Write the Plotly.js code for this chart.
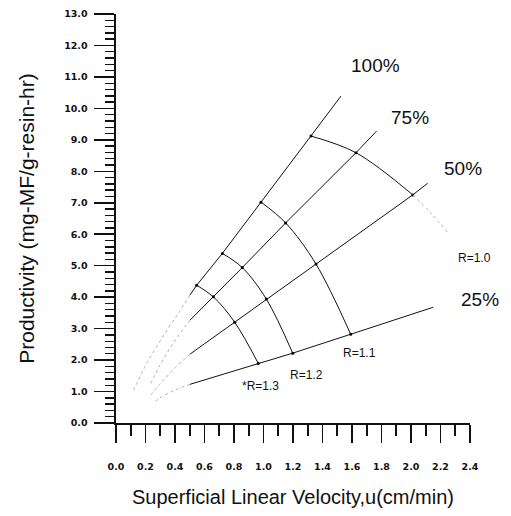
<!DOCTYPE html>
<html><head><meta charset="utf-8">
<script src="https://cdn.plot.ly/plotly-3.0.1.min.js"></script>
<style>html,body{margin:0;padding:0;background:#fff}</style>
</head><body><div id="chart" style="width:511px;height:516px"></div>
<script>
// ---- tick labels ----
const xTickVals = [0.0,0.2,0.4,0.6,0.8,1.0,1.2,1.4,1.6,1.8,2.0,2.2,2.4];
const xTickText = ['0.0','0.2','0.4','0.6','0.8','1.0','1.2','1.4','1.6','1.8','2.0','2.2','2.4'];
const yTickVals = [0,1,2,3,4,5,6,7,8,9,10,11,12,13];
const yTickText = ['0.0','1.0','2.0','3.0','4.0','5.0','6.0','7.0','8.0','9.0','10.0','11.0','12.0','13.0'];

// ---- constant-percentage lines (solid part) ----
const line100X = [0.502, 0.547, 0.721, 0.983, 1.322, 1.525];
const line100Y = [4.07, 4.38, 5.39, 7.02, 9.12, 10.39];
const line75X  = [0.502, 0.660, 0.856, 1.150, 1.627, 1.767];
const line75Y  = [3.27, 4.01, 4.94, 6.36, 8.59, 9.28];
const line50X  = [0.502, 0.805, 1.019, 1.356, 2.012, 2.113];
const line50Y  = [2.19, 3.20, 3.94, 5.05, 7.25, 7.62];
const line25X  = [0.502, 0.965, 1.198, 1.591, 2.151];
const line25Y  = [1.23, 1.89, 2.22, 2.82, 3.68];

// ---- dotted extensions toward origin ----
const dot100X = [0.502, 0.423, 0.310, 0.197, 0.113];
const dot100Y = [4.07, 3.49, 2.69, 1.79, 0.98];
const dot75X  = [0.502, 0.468, 0.380, 0.298, 0.231];
const dot75Y  = [3.27, 3.06, 2.48, 1.84, 1.21];
const dot50X  = [0.502, 0.400, 0.300, 0.220];
const dot50Y  = [2.19, 1.75, 1.25, 0.80];
const dot25X  = [0.502, 0.400, 0.300, 0.250];
const dot25Y  = [1.23, 1.05, 0.80, 0.62];

// ---- constant-R curves ----
const r10X = [1.322, 1.627, 2.012];
const r10Y = [9.12, 8.59, 7.25];
const r10DotX = [2.012, 2.130, 2.253];
const r10DotY = [7.25, 6.70, 6.03];
const r11X = [0.983, 1.150, 1.356, 1.591];
const r11Y = [7.02, 6.36, 5.05, 2.82];
const r12X = [0.721, 0.856, 1.019, 1.198];
const r12Y = [5.39, 4.94, 3.94, 2.22];
const r13X = [0.547, 0.660, 0.805, 0.965];
const r13Y = [4.38, 4.01, 3.20, 1.89];

const lineLabels = ['100%', '75%', '50%', '25%'];
const rLabels = ['R=1.0', 'R=1.1', 'R=1.2', '*R=1.3'];

const solid = {color:'#111', width:1};
const dotted = {color:'#b0b0b0', width:1, dash:'dot', shape:'spline'};
const arc = {color:'#111', width:1, shape:'spline'};

const traces = [
  {x:line100X, y:line100Y, mode:'lines', line:solid},
  {x:line75X,  y:line75Y,  mode:'lines', line:solid},
  {x:line50X,  y:line50Y,  mode:'lines', line:solid},
  {x:line25X,  y:line25Y,  mode:'lines', line:solid},
  {x:dot100X, y:dot100Y, mode:'lines', line:dotted},
  {x:dot75X,  y:dot75Y,  mode:'lines', line:dotted},
  {x:dot50X,  y:dot50Y,  mode:'lines', line:dotted},
  {x:dot25X,  y:dot25Y,  mode:'lines', line:dotted},
  {x:r10X, y:r10Y, mode:'lines+markers', line:arc, marker:{size:3, color:'#000'}},
  {x:r10DotX, y:r10DotY, mode:'lines', line:dotted},
  {x:r11X, y:r11Y, mode:'lines+markers', line:arc, marker:{size:3, color:'#000'}},
  {x:r12X, y:r12Y, mode:'lines+markers', line:arc, marker:{size:3, color:'#000'}},
  {x:r13X, y:r13Y, mode:'lines+markers', line:arc, marker:{size:3, color:'#000'}}
];

const big = {family:'Liberation Sans, Arial, sans-serif', size:19, color:'#111'};
const small = {family:'Liberation Sans, Arial, sans-serif', size:12, color:'#111'};
const annotations = [
  {text:lineLabels[0], x:0.732, y:0.875, font:big},
  {text:lineLabels[1], x:0.831, y:0.748, font:big},
  {text:lineLabels[2], x:0.980, y:0.623, font:big},
  {text:lineLabels[3], x:1.028, y:0.301, font:big},
  {text:rLabels[0], x:1.014, y:0.403, font:small},
  {text:rLabels[1], x:0.689, y:0.171, font:small},
  {text:rLabels[2], x:0.537, y:0.117, font:small},
  {text:rLabels[3], x:0.407, y:0.090, font:small}
].map(a => Object.assign({xref:'paper', yref:'paper', showarrow:false, xanchor:'center', yanchor:'middle'}, a));

const tickFont = {family:'DejaVu Sans, sans-serif', size:9.5, color:'#111', weight:'bold'};
const layout = {
  width:511, height:516,
  margin:{l:116, r:41, t:14, b:93},
  paper_bgcolor:'#fff', plot_bgcolor:'#fff',
  showlegend:false, hovermode:false,
  font:{family:'Liberation Sans, Arial, sans-serif', color:'#111'},
  xaxis:{
    range:[0, 2.4], showgrid:false, zeroline:false,
    showline:true, linecolor:'#111', linewidth:2,
    ticks:'outside', ticklen:18, tickwidth:1.6, tickcolor:'#111',
    tickvals:xTickVals, ticktext:xTickText, tickfont:tickFont,
    ticklabelstandoff:16,
    minor:{dtick:0.1, ticks:'outside', ticklen:11, tickwidth:1.6, tickcolor:'#111', showgrid:false},
    title:{text:'Superficial Linear Velocity,u(cm/min)', font:{size:20, family:'Liberation Sans, Arial, sans-serif', color:'#111'}, standoff:19}
  },
  yaxis:{
    range:[0, 13], showgrid:false, zeroline:false,
    showline:true, linecolor:'#111', linewidth:2.5,
    ticks:'outside', ticklen:20, tickwidth:1.6, tickcolor:'#111',
    tickvals:yTickVals, ticktext:yTickText, tickfont:tickFont,
    ticklabelstandoff:4,
    minor:{dtick:0.2, ticks:'outside', ticklen:9, tickwidth:1.4, tickcolor:'#111', showgrid:false},
    title:{text:'Productivity (mg-MF/g-resin-hr)', font:{size:21, family:'Liberation Sans, Arial, sans-serif', color:'#111'}, standoff:24}
  },
  annotations:annotations
};

Plotly.newPlot('chart', traces, layout, {staticPlot:true, displayModeBar:false});
</script>
</body></html>
